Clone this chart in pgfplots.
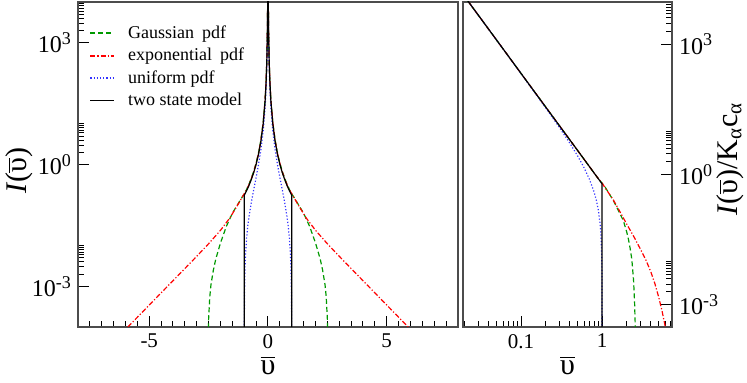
\documentclass[border=0pt]{standalone}
\usepackage{fontspec}
\setmainfont{Liberation Serif}
\usepackage{pgfplots}
\pgfplotsset{compat=1.18}
\definecolor{gaussgreen}{rgb}{0,0.6,0}
\definecolor{unifblue}{rgb}{0.2,0.2,1}
\newcommand{\ub}{$\overline{\mbox{υ}}$}
\newcommand{\tp}[1]{10\raisebox{0.75ex}{\fontsize{9}{9}\selectfont #1}}
\tikzset{
  gaussline/.style={line width=0.6pt, dash pattern=on 2.5pt off 1.5pt},
  expline/.style={line width=0.6pt, dash pattern=on 2.5pt off 1pt on 0.6pt off 1pt},
  unifline/.style={line width=0.6pt, dash pattern=on 0.6pt off 1pt},
  twoline/.style={line width=0.6pt},
}
\pgfplotsset{
  panel/.style={
    scale only axis, height=162.5pt,
    tick align=inside, major tick length=5.5pt, minor tick length=3pt,
    axis line style={black!70, line width=0.7pt},
    every tick/.style={black, line width=0.5pt},
    xticklabel style={font=\fontsize{10.5}{10.5}\selectfont},
    yticklabel style={font=\fontsize{12}{12}\selectfont},
    label style={font=\fontsize{15}{15}\selectfont},
    xlabel style={yshift=3pt},
  },
}
\begin{document}
\begin{tikzpicture}
\useasboundingbox (-39pt,-28pt) rectangle (334.5pt,163.5pt);

% left panel: I(v) against v
\begin{axis}[panel, at={(0pt,0pt)}, anchor=south west, width=190pt,
  xmin=-8, xmax=8, ymode=log, ymin=1e-4, ymax=1e4,
  xtick={-5,0,5}, xticklabels={-5,0,5},
  minor xtick={-7.5,-7,...,7.5},
  ytick={1e-3,1,1e3},
  yticklabels={\tp{-3},\tp{0},\tp{3}},
  minor ytick={0.002,0.003,0.004,0.005,0.006,0.007,0.008,0.009,0.01,
    2,3,4,5,6,7,8,9,10,2000,3000,4000,5000,6000,7000,8000,9000,10000},
  xtick pos=bottom, ytick pos=left,
  xlabel={\ub}, ylabel={\textit{I}(\ub)},
  ylabel style={at={(axis description cs:-0.155,0.48)}, anchor=center},
  legend cell align=left,
  legend style={at={(axis description cs:0,1)}, anchor=north west,
    xshift=5.5pt, yshift=-11pt, draw=none, fill=none, inner sep=0pt,
    row sep=2.2pt, column sep=6.5pt, font=\fontsize{9}{9}\selectfont,
    nodes={inner sep=0pt, text height=7pt, text depth=2pt}},
  legend image code/.code={\draw[#1, line width=0.9pt] (0pt,0pt) -- (12pt,0pt);},
]
\addlegendimage{gaussline, draw=gaussgreen}
\addlegendentry{Gaussian\hspace{4pt}pdf}
\addlegendimage{expline, draw=red}
\addlegendentry{exponential\hspace{4pt}pdf}
\addlegendimage{unifline, draw=unifblue}
\addlegendentry{uniform pdf}
\addlegendimage{twoline, draw=black}
\addlegendentry{two state model}
\addplot[gaussline, color=gaussgreen, forget plot] table {
x y
-2.55 1e-6
-2.53 3.16e-5
-2.5 1.58e-4
-2.45 5.62e-4
-2.4 0.00112
-2.3 0.00251
-2.2 0.00468
-2.0 0.01175
-1.75 0.0302
-1.5 0.0631
-1.25 0.110
-1.0 0.191
-0.9 0.243
-0.8 0.328
-0.7 0.462
-0.6 0.683
-0.5 1.08
-0.4 1.91
-0.3 3.97
-0.2 11.1
-0.12 40.6
-0.08 114
-0.05 376
-0.03 1374
-0.02 3850
-0.013 11500
-0.01 22400
0.01 22400
0.013 11500
0.02 3850
0.03 1374
0.05 376
0.08 114
0.12 40.6
0.2 11.1
0.3 3.97
0.4 1.91
0.5 1.08
0.6 0.683
0.7 0.462
0.8 0.328
0.9 0.243
1.0 0.191
1.25 0.110
1.5 0.0631
1.75 0.0302
2.0 0.01175
2.2 0.00468
2.3 0.00251
2.4 0.00112
2.45 5.62e-4
2.5 1.58e-4
2.53 3.16e-5
2.55 1e-6
};
\addplot[expline, color=red, forget plot] table {
x y
-6.5 4.37e-5
-6.0 8.71e-5
-5.5 1.74e-4
-5.0 3.47e-4
-4.5 6.92e-4
-4.0 0.00138
-3.5 0.00275
-3.0 0.00550
-2.5 0.0112
-2.0 0.0240
-1.6 0.0490
-1.25 0.107
-1.0 0.191
-0.9 0.238
-0.8 0.320
-0.7 0.451
-0.6 0.667
-0.5 1.06
-0.4 1.86
-0.3 3.87
-0.2 10.9
-0.12 39.7
-0.08 111
-0.05 367
-0.03 1342
-0.02 3760
-0.013 11200
-0.01 21900
0.01 21900
0.013 11200
0.02 3760
0.03 1342
0.05 367
0.08 111
0.12 39.7
0.2 10.9
0.3 3.87
0.4 1.86
0.5 1.06
0.6 0.667
0.7 0.451
0.8 0.320
0.9 0.238
1.0 0.191
1.25 0.107
1.6 0.0490
2.0 0.0240
2.5 0.0112
3.0 0.00550
3.5 0.00275
4.0 0.00138
4.5 6.92e-4
5.0 3.47e-4
5.5 1.74e-4
6.0 8.71e-5
6.5 4.37e-5
};
\addplot[unifline, color=unifblue, forget plot] table {
x y
-1.0 1e-6
-0.999 2.05e-5
-0.995 1.97e-4
-0.99 5.24e-4
-0.97 0.002535
-0.95 0.00540
-0.9 0.01571
-0.85 0.0309
-0.8 0.0519
-0.7 0.1188
-0.6 0.2415
-0.5 0.479
-0.4 0.989
-0.3 2.29
-0.2 6.92
-0.12 26.3
-0.08 74.5
-0.05 247
-0.03 908
-0.02 2540
-0.013 7600
-0.01 14800
0.01 14800
0.013 7600
0.02 2540
0.03 908
0.05 247
0.08 74.5
0.12 26.3
0.2 6.92
0.3 2.29
0.4 0.989
0.5 0.479
0.6 0.2415
0.7 0.1188
0.8 0.0519
0.85 0.0309
0.9 0.01571
0.95 0.00540
0.97 0.002535
0.99 5.24e-4
0.995 1.97e-4
0.999 2.05e-5
1.0 1e-6
};
\addplot[twoline, color=black, forget plot] table {
x y
-1.0 1e-6
-1.0 0.174
-0.9 0.227
-0.8 0.306
-0.7 0.431
-0.6 0.637
-0.5 1.01
-0.4 1.78
-0.3 3.70
-0.2 10.4
-0.12 37.9
-0.08 106
-0.05 351
-0.03 1282
-0.02 3590
-0.013 10700
-0.01 20900
0.01 20900
0.013 10700
0.02 3590
0.03 1282
0.05 351
0.08 106
0.12 37.9
0.2 10.4
0.3 3.70
0.4 1.78
0.5 1.01
0.6 0.637
0.7 0.431
0.8 0.306
0.9 0.227
1.0 0.174
1.0 1e-6
};
\end{axis}

% right panel: I(v)/K c against v, log-log
\begin{axis}[panel, at={(192.5pt,0pt)}, anchor=south west, width=104.5pt,
  xmode=log, ymode=log, xmin=0.0192, xmax=7.3, ymin=3.1e-4, ymax=9.3e3,
  xtick={0.1,1}, xticklabels={0.1,1},
  minor xtick={0.02,0.03,0.04,0.05,0.06,0.07,0.08,0.09,
    0.2,0.3,0.4,0.5,0.6,0.7,0.8,0.9,2,3,4,5,6,7},
  ytick={1e-3,1,1e3},
  yticklabels={\tp{-3},\tp{0},\tp{3}},
  minor ytick={0.002,0.003,0.004,0.005,0.006,0.007,0.008,0.009,0.01,
    2,3,4,5,6,7,8,9,10,2000,3000,4000,5000,6000,7000,8000,9000,10000},
  xtick pos=bottom, ytick pos=right, yticklabel pos=right,
  xlabel={\ub},
  ylabel={\textit{I}(\ub)/K\textsubscript{α}c\textsubscript{α}},
  ylabel style={at={(axis description cs:1.277,0.517)}, anchor=center},
]
\addplot[gaussline, color=gaussgreen] table {
x y
0.019 14300
0.05 1230
0.1 211
0.2 36.3
0.3 12.97
0.5 3.55
0.7 1.51
0.85 0.92
1.0 0.631
1.09 0.513
1.38 0.251
1.59 0.148
1.83 0.0871
2.02 0.0468
2.11 0.0331
2.22 0.0200
2.33 0.01122
2.45 0.00355
2.52 0.00112
2.56 3.98e-4
2.6 1.26e-4
2.62 1e-5
};
\addplot[expline, color=red] table {
x y
0.019 14300
0.05 1230
0.1 211
0.2 36.3
0.3 12.97
0.5 3.55
0.7 1.51
0.85 0.92
1.0 0.631
1.38 0.257
1.6 0.158
2.0 0.0741
2.5 0.0355
3.0 0.0186
3.5 0.01047
4.0 0.00575
4.5 0.00302
5.0 0.00151
5.5 7.24e-4
6.0 3.31e-4
6.5 1.41e-4
};
\addplot[unifline, color=unifblue] table {
x y
0.019 14300
0.05 1228
0.1 209
0.2 34.8
0.3 11.8
0.4 5.25
0.5 2.66
0.6 1.43
0.7 0.769
0.8 0.387
0.85 0.255
0.9 0.151
0.95 0.0678
0.97 0.0390
0.99 0.01245
0.995 0.00616
0.999 0.00122
0.9999 1.22e-4
1.0 1e-6
};
\addplot[twoline, color=black] table {
x y
0.019 14300
0.03 4500
0.05 1230
0.1 211
0.2 36.3
0.3 12.97
0.5 3.55
0.7 1.51
0.85 0.92
1.0 0.61
1.0 1e-6
};
\end{axis}
\end{tikzpicture}
\end{document}
